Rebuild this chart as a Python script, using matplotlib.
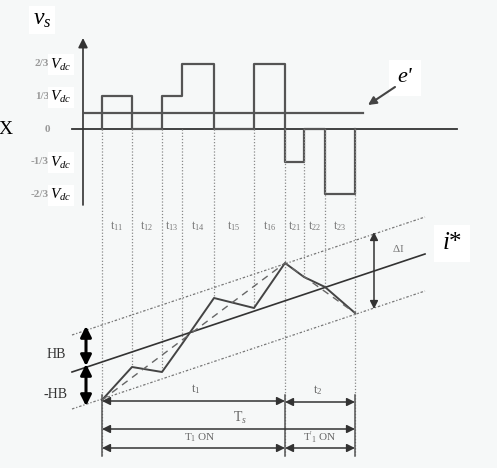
import numpy as np
import matplotlib
matplotlib.use("Agg")
import matplotlib.pyplot as plt

plt.rcParams['font.family'] = ['Liberation Serif', 'DejaVu Serif']
plt.rcParams['mathtext.fontset'] = 'custom'
plt.rcParams['mathtext.rm'] = 'Liberation Serif'
plt.rcParams['mathtext.it'] = 'Liberation Serif:italic'

# ---------------------------------------------------------------
# Data (diagram units: time along x, picture units along y)
# ---------------------------------------------------------------
# switching instants
t_edges = [102, 132, 162, 182, 214, 254, 285, 304, 325, 355]
# voltage level in each interval (fraction of Vdc)
v_levels = [1/3, 0, 1/3, 2/3, 0, 2/3, -1/3, 0, -2/3]
seg_labels = ['11', '12', '13', '14', '15', '16', '21', '22', '23']
tick_levels = [2/3, 1/3, 0, -1/3, -2/3]
tick_texts = ['2/3', '1/3', '0', '-1/3', '-2/3']
e_level = 0.16

# current at each switching instant (picture y)
i_samples = [400, 367, 372, 344, 298, 308, 263, 277, 287, 313]
# reference current i* (start / end) and hysteresis half band
ref_x = [72, 425]
ref_y = [372, 254]
hb = 37

# voltage-to-picture mapping
v0, vscale = 129, 98
vy = lambda v: v0 - v * vscale

fig = plt.figure(figsize=(4.97, 4.68), dpi=100, facecolor='#f6f8f8')
ax = fig.add_axes([0, 0, 1, 1])
ax.set_facecolor('#f6f8f8')
ax.set_xlim(0, 497)
ax.set_ylim(468, 0)
ax.axis('off')

# ---------------- upper panel: inverter voltage ----------------
# vertical axis with arrow
ax.annotate('', xy=(83, 38), xytext=(83, 205),
            arrowprops=dict(arrowstyle='-|>', color='#333', lw=1.2, mutation_scale=14,
                            shrinkA=0, shrinkB=0))
ax.plot([72, 457], [v0, v0], color='#333', lw=1.3)
ax.plot([85, 363], [vy(e_level)] * 2, color='#555', lw=1.6)

# step waveform
xs, ys = [], []
for k, lv in enumerate(v_levels):
    xs += [t_edges[k], t_edges[k + 1]]
    ys += [vy(lv), vy(lv)]
xs = [t_edges[0]] + xs + [t_edges[-1]]
ys = [v0] + ys + [v0]
ax.plot(xs, ys, color='#555', lw=1.6)

# tick labels
for lv, tx in zip(tick_levels, tick_texts):
    if tx == '0':
        ax.text(47, vy(lv), '0', fontsize=8, color='#999', ha='center', va='center',
                weight='bold')
    else:
        ax.text(49, vy(lv), tx, fontsize=8, color='#999', ha='right', va='center',
                weight='bold')
        ax.text(50, vy(lv) + 1, r'$V_{dc}$', fontsize=11, ha='left', va='center',
                bbox=dict(boxstyle='square,pad=0.15', fc='white', ec='none'))
ax.text(42, 20, r'$v_s$', fontsize=17, ha='center', va='center',
        bbox=dict(boxstyle='square,pad=0.15', fc='white', ec='none'))
ax.text(6, 129, 'X', fontsize=14, ha='center', va='center')

# e' label and arrow
ax.text(405, 78, "e'", fontsize=16, style='italic', ha='center', va='center',
        bbox=dict(boxstyle='square,pad=0.4', fc='white', ec='none'))
ax.annotate('', xy=(368, 105), xytext=(395, 87),
            arrowprops=dict(arrowstyle='-|>', color='#444', lw=1.5, mutation_scale=12,
                            shrinkA=0, shrinkB=0))

# ---------------- dotted projection lines ----------------
for k, t in enumerate(t_edges):
    bottom = 455 if k in (0, 6, 9) else i_samples[k]
    ax.plot([t, t], [v0, bottom], color='#8a8a8a', lw=0.9, ls=(0, (1, 1.5)))
for t in (t_edges[0], t_edges[6], t_edges[9]):
    ax.plot([t, t], [395, 456], color='#555', lw=1.1)

for k, lab in enumerate(seg_labels):
    xm = (t_edges[k] + t_edges[k + 1]) / 2
    ax.text(xm, 226, r'$\mathrm{t}_{%s}$' % lab, fontsize=8.5, color='#777',
            ha='center', va='center')

# ---------------- lower panel: current ----------------
rx = np.array(ref_x)
ry = np.array(ref_y)
ax.plot(rx, ry, color='#333', lw=1.2)
ax.plot(rx, ry - hb, color='#777', lw=0.9, ls=(0, (2, 1.5, 1, 1.5)))
ax.plot(rx, ry + hb, color='#777', lw=0.9, ls=(0, (2, 1.5, 1, 1.5)))

ax.plot(t_edges, i_samples, color='#444', lw=1.4)
ax.plot([t_edges[0], t_edges[6], t_edges[9]], [i_samples[0], i_samples[6], i_samples[9]],
        color='#666', lw=1.0, ls=(0, (5, 4)))

# Delta I arrow
ax.annotate('', xy=(374, 232), xytext=(374, 309),
            arrowprops=dict(arrowstyle='<|-|>', color='#333', lw=1.1, mutation_scale=12,
                            shrinkA=0, shrinkB=0))
ax.text(398, 248, r'$\Delta\mathrm{I}$', fontsize=8, color='#777', ha='center', va='center')
ax.text(452, 243, r'$i$*', fontsize=18, ha='center', va='center',
        bbox=dict(boxstyle='square,pad=0.3', fc='white', ec='none'))

# HB arrows
ax.annotate('', xy=(86, 326), xytext=(86, 366),
            arrowprops=dict(arrowstyle='<|-|>', color='black', lw=2.2, mutation_scale=16,
                            shrinkA=0, shrinkB=0))
ax.annotate('', xy=(86, 364), xytext=(86, 406),
            arrowprops=dict(arrowstyle='<|-|>', color='black', lw=2.2, mutation_scale=16,
                            shrinkA=0, shrinkB=0))
ax.text(56, 355, 'HB', fontsize=10, color='#333', ha='center', va='center')
ax.text(55, 395, '-HB', fontsize=10, color='#333', ha='center', va='center')

# ---------------- timing dimension arrows ----------------
def dim(x0, x1, y):
    ax.annotate('', xy=(x0, y), xytext=(x1, y),
                arrowprops=dict(arrowstyle='<|-|>', color='#333', lw=1.1, mutation_scale=12,
                                shrinkA=0, shrinkB=0))

dim(t_edges[0], t_edges[6], 401)
dim(t_edges[6], t_edges[9], 402)
dim(t_edges[0], t_edges[9], 429)
dim(t_edges[0], t_edges[6], 448)
dim(t_edges[6], t_edges[9], 448)

ax.text(196, 389, r'$\mathrm{t}_1$', fontsize=9, color='#666', ha='center', va='center')
ax.text(318, 390, r'$\mathrm{t}_2$', fontsize=9, color='#666', ha='center', va='center')
ax.text(240, 418, r'$\mathrm{T}_s$', fontsize=10, color='#666', ha='center', va='center')
ax.text(200, 438, r'$\mathrm{T}_1$ ON', fontsize=8, color='#666', ha='center', va='center')
ax.text(320, 438, r"$\mathrm{T'}_1$ ON", fontsize=8, color='#666', ha='center', va='center')

fig.savefig('out.png', dpi=100, facecolor=fig.get_facecolor())
